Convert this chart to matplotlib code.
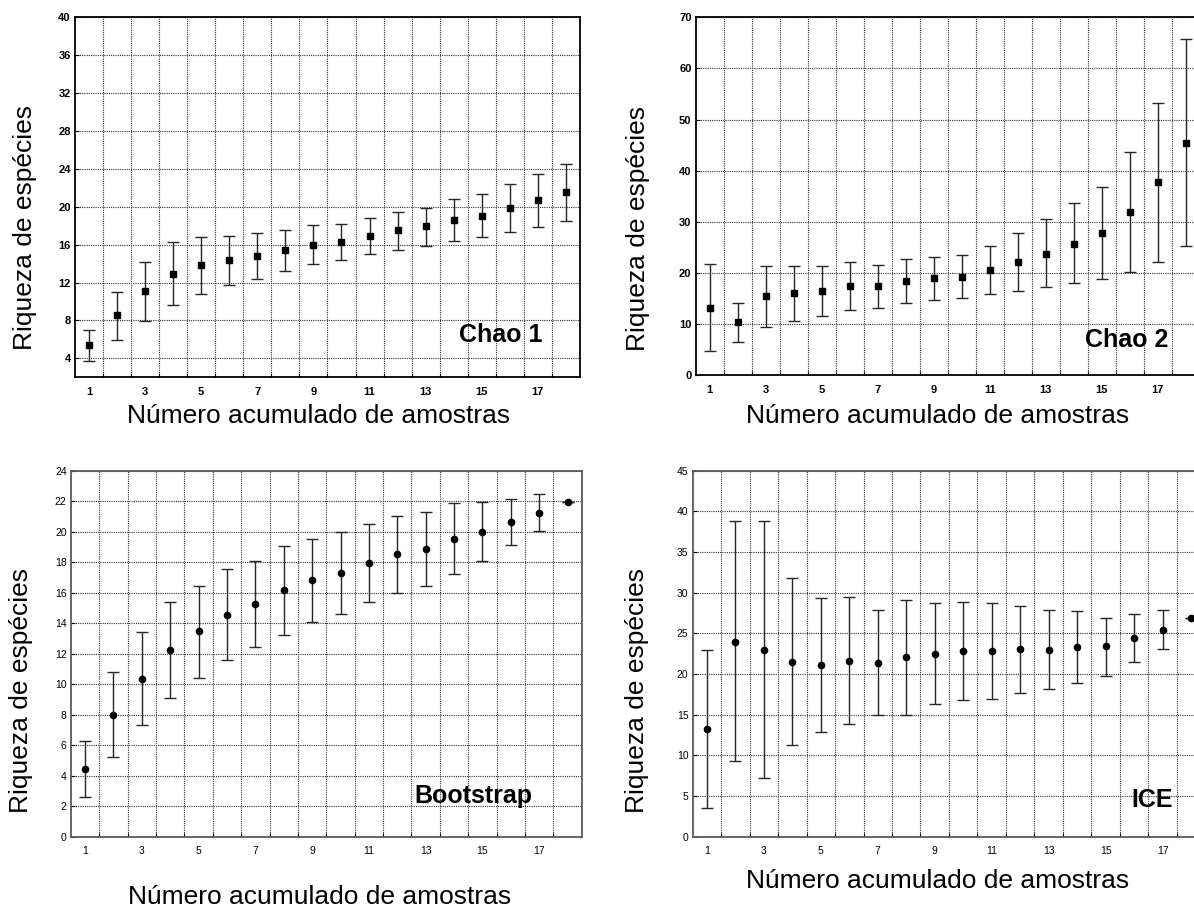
import matplotlib
matplotlib.use("Agg")
import matplotlib.pyplot as plt
import numpy as np

plt.rcParams['font.family'] = ['Liberation Sans', 'DejaVu Sans']

# amostras acumuladas
amostras = np.arange(1, 19)

# Chao 1
chao1_media = [5.4, 8.56, 11.09, 12.88, 13.82, 14.35, 14.81, 15.4, 16.0, 16.25,
               16.88, 17.5, 17.93, 18.63, 19.02, 19.86, 20.67, 21.51]
chao1_sup = [6.95, 11.05, 14.18, 16.25, 16.84, 16.95, 17.19, 17.54, 18.07, 18.18,
             18.84, 19.47, 19.9, 20.84, 21.33, 22.35, 23.44, 24.46]
chao1_inf = [3.75, 5.93, 7.96, 9.68, 10.74, 11.75, 12.42, 13.26, 13.93, 14.35,
             14.98, 15.47, 15.82, 16.39, 16.81, 17.3, 17.86, 18.46]

# Chao 2
chao2_media = [13.2, 10.4, 15.45, 16.1, 16.5, 17.5, 17.4, 18.45, 19.0, 19.3,
               20.5, 22.2, 23.8, 25.75, 27.8, 31.9, 37.8, 45.4]
chao2_sup = [21.7, 14.1, 21.45, 21.45, 21.4, 22.1, 21.6, 22.7, 23.2, 23.5,
             25.3, 27.8, 30.5, 33.6, 36.8, 43.6, 53.3, 65.7]
chao2_inf = [4.8, 6.6, 9.4, 10.7, 11.6, 12.8, 13.2, 14.1, 14.7, 15.1,
             15.8, 16.4, 17.2, 18.0, 18.8, 20.1, 22.2, 25.2]

# Bootstrap
boot_media = [4.44, 7.98, 10.36, 12.26, 13.46, 14.56, 15.28, 16.15, 16.83, 17.27,
              17.95, 18.51, 18.86, 19.54, 20.0, 20.66, 21.22, 21.95]
boot_sup = [6.3, 10.78, 13.44, 15.41, 16.46, 17.57, 18.05, 19.08, 19.54, 19.96,
            20.48, 21.05, 21.31, 21.86, 21.97, 22.14, 22.45, 21.95]
boot_inf = [2.58, 5.2, 7.3, 9.07, 10.43, 11.59, 12.46, 13.2, 14.1, 14.58,
            15.41, 15.96, 16.46, 17.22, 18.1, 19.15, 20.07, 21.95]

# ICE
ice_media = [13.24, 24.0, 23.0, 21.48, 21.1, 21.64, 21.39, 22.13, 22.46, 22.83,
             22.83, 23.07, 23.0, 23.32, 23.4, 24.43, 25.45, 26.84]
ice_sup = [22.95, 38.8, 38.8, 31.76, 29.3, 29.47, 27.9, 29.14, 28.69, 28.8,
           28.73, 28.4, 27.87, 27.7, 26.93, 27.38, 27.83, 26.84]
ice_inf = [3.48, 9.26, 7.2, 11.27, 12.83, 13.81, 14.92, 15.0, 16.27, 16.8,
           16.93, 17.66, 18.11, 18.93, 19.71, 21.48, 23.11, 26.84]

fig = plt.figure(figsize=(11.94, 9.08), dpi=100)

paineis = [
    dict(rect=[0.0628, 0.5845, 0.4229, 0.3965], m=chao1_media, s=chao1_sup, i=chao1_inf,
         ylim=(2, 40), yt=np.arange(4, 41, 4), mk='s', nome='Chao 1', bold=True,
         ylab=(-0.086, 0.415), xlab=(0.482, -0.128), txt=(0.926, 0.098)),
    dict(rect=[0.5827, 0.5867, 0.4221, 0.3943], m=chao2_media, s=chao2_sup, i=chao2_inf,
         ylim=(0, 70), yt=np.arange(0, 71, 10), mk='s', nome='Chao 2', bold=True,
         ylab=(-0.101, 0.411), xlab=(0.479, -0.133), txt=(0.937, 0.079)),
    dict(rect=[0.0593, 0.0785, 0.428, 0.4031], m=boot_media, s=boot_sup, i=boot_inf,
         ylim=(0, 24), yt=np.arange(0, 25, 2), mk='o', nome='Bootstrap', bold=False,
         ylab=(-0.084, 0.40), xlab=(0.486, -0.184), txt=(0.904, 0.091)),
    dict(rect=[0.58, 0.0785, 0.4296, 0.4031], m=ice_media, s=ice_sup, i=ice_inf,
         ylim=(0, 45), yt=np.arange(0, 46, 5), mk='o', nome='ICE', bold=False,
         ylab=(-0.094, 0.40), xlab=(0.477, -0.140), txt=(0.936, 0.082)),
]

for p in paineis:
    ax = fig.add_axes(p['rect'])
    m = np.array(p['m'])
    erro = [m - np.array(p['i']), np.array(p['s']) - m]
    ax.errorbar(amostras, m, yerr=erro, fmt=p['mk'], color='black', ms=4.5,
                ecolor='0.15', elinewidth=1.0, capsize=4.3, capthick=1.0,
                clip_on=False, zorder=3)

    ax.set_xlim(0.5, 18.5)
    ax.set_ylim(*p['ylim'])
    ax.set_xticks(np.arange(1, 18, 2))
    ax.set_xticks(np.arange(1.5, 18, 1), minor=True)
    ax.set_yticks(p['yt'])

    peso = 'bold' if p['bold'] else 'normal'
    tam = 8 if p['bold'] else 7.5
    ax.tick_params(axis='x', which='major', length=0, pad=7, labelsize=tam)
    ax.tick_params(axis='x', which='minor', direction='in', length=3, width=0.8)
    ax.tick_params(axis='y', direction='in', length=3, width=0.8, pad=3, labelsize=tam)
    for t in ax.get_xticklabels() + ax.get_yticklabels():
        t.set_fontweight(peso)

    ax.grid(True, axis='x', which='minor', color='0.2', linestyle=(0, (1, 1)), linewidth=0.8)
    ax.grid(True, axis='y', which='major', color='0.2', linestyle=(0, (1, 1)), linewidth=0.8)

    cor_borda = 'black' if p['bold'] else '0.35'
    for sp in ax.spines.values():
        sp.set_color(cor_borda)
        sp.set_linewidth(1.3)

    ax.set_ylabel('Riqueza de espécies', fontsize=19, va='baseline', ha='center')
    ax.yaxis.set_label_coords(*p['ylab'])
    ax.set_xlabel('Número acumulado de amostras', fontsize=19, va='baseline', ha='center')
    ax.xaxis.set_label_coords(*p['xlab'])

    ax.text(p['txt'][0], p['txt'][1], p['nome'], transform=ax.transAxes,
            ha='right', va='baseline', fontsize=18, fontweight='bold', zorder=4)

fig.savefig('out.png', dpi=100)
